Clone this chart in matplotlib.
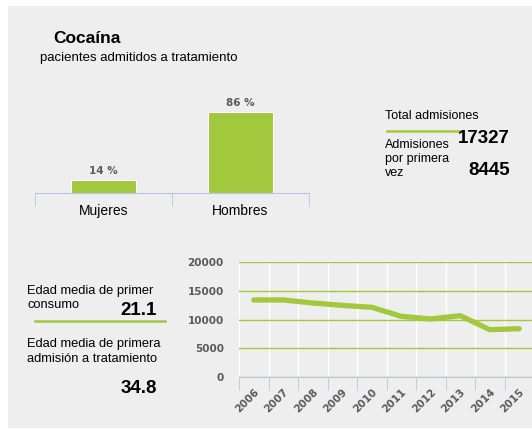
import numpy as np
import matplotlib.pyplot as plt

W, H = 532, 429

# data
sexo = ['Mujeres', 'Hombres']
porcentaje = [14, 86]
anios = ['2006', '2007', '2008', '2009', '2010', '2011', '2012', '2013', '2014', '2015']
admisiones = [13400, 13400, 12870, 12460, 12120, 10550, 10090, 10670, 8230, 8400]
total_admisiones = '17327'
primera_vez = '8445'
edad_consumo = '21.1'
edad_admision = '34.8'

verde = '#a2c83e'
azul = '#b4c6e7'
gris = '#5a5a5a'
fondo = '#eeeeee'


def fx(x):
    return x / W


def fy(y):
    return 1 - y / H


fig = plt.figure(figsize=(W / 100, H / 100), dpi=100)
fig.patch.set_facecolor('white')
fig.add_artist(plt.Rectangle((fx(8), fy(428)), fx(524), 422 / H, transform=fig.transFigure,
                             facecolor=fondo, edgecolor='none', zorder=0))

sans = 'Liberation Sans'
fig.text(fx(53), fy(43), 'Cocaína', fontsize=12.5, fontweight='bold', family=sans)
fig.text(fx(40), fy(61), 'pacientes admitidos a tratamiento', fontsize=9.5, family=sans)

# bar chart
ax1 = fig.add_axes([fx(35), fy(193), 274 / W, 93 / H])
ax1.set_facecolor('none')
x1 = np.arange(len(sexo))
bars = ax1.bar(x1, porcentaje, width=0.48, color=verde, edgecolor='white', linewidth=0.8)
for b, v in zip(bars, porcentaje):
    ax1.text(b.get_x() + b.get_width() / 2, v + 4, f'{v} %', ha='center', va='bottom',
             fontsize=7.5, fontweight='bold', color=gris)
ax1.set_xlim(-0.5, 1.5)
ax1.set_ylim(0, 98.4)
for s in ['top', 'right', 'left']:
    ax1.spines[s].set_visible(False)
ax1.spines['bottom'].set_color(azul)
ax1.set_yticks([])
ax1.set_xticks(x1)
ax1.set_xticklabels(sexo, fontsize=10, family=sans)
ax1.set_xticks([-0.5, 0.5, 1.5], minor=True)
ax1.tick_params(axis='x', which='major', length=0, pad=8)
ax1.tick_params(axis='x', which='minor', length=9, color=azul)

# admisiones block
fig.text(fx(385), fy(119), 'Total admisiones', fontsize=9, family=sans)
fig.add_artist(plt.Line2D([fx(387), fx(461)], [fy(131), fy(131)], color=verde, lw=1.8))
fig.text(fx(510), fy(143), total_admisiones, fontsize=13.5, fontweight='bold', family=sans, ha='right')
for i, t in enumerate(['Admisiones', 'por primera', 'vez']):
    fig.text(fx(385), fy(148 + 14 * i), t, fontsize=9, family=sans)
fig.text(fx(510), fy(175), primera_vez, fontsize=13.5, fontweight='bold', family=sans, ha='right')

# edad block
fig.text(fx(27), fy(294), 'Edad media de primer', fontsize=9.3, family=sans)
fig.text(fx(27), fy(308), 'consumo', fontsize=9.3, family=sans)
fig.text(fx(157), fy(315), edad_consumo, fontsize=13.5, fontweight='bold', family=sans, ha='right')
fig.add_artist(plt.Line2D([fx(35), fx(165)], [fy(321), fy(321)], color=verde, lw=1.8))
fig.text(fx(27), fy(347), 'Edad media de primera', fontsize=9.3, family=sans)
fig.text(fx(27), fy(362), 'admisión a tratamiento', fontsize=9.3, family=sans)
fig.text(fx(157), fy(393), edad_admision, fontsize=13.5, fontweight='bold', family=sans, ha='right')

# line chart
ax2 = fig.add_axes([fx(239), fy(377), 295 / W, 115 / H])
ax2.set_facecolor('none')
x2 = np.arange(len(anios))
ax2.plot(x2, admisiones, color=verde, lw=3.8, solid_capstyle='round', zorder=3)
ax2.set_xlim(-0.5, len(anios) - 0.5)
ax2.set_ylim(0, 20000)
ax2.set_yticks([0, 5000, 10000, 15000, 20000])
ax2.yaxis.grid(True, color=verde, lw=1)
ax2.set_xticks(x2)
ax2.set_xticklabels(anios, rotation=45, ha='right', rotation_mode='anchor')
ax2.set_xticks(np.arange(len(anios) + 1) - 0.5, minor=True)
ax2.xaxis.grid(True, which='minor', color='white', lw=1)
for s in ['top', 'right', 'left']:
    ax2.spines[s].set_visible(False)
ax2.spines['bottom'].set_color(azul)
ax2.spines['bottom'].set_zorder(4)
ax2.tick_params(axis='x', which='major', length=0, pad=7, labelsize=7.5, labelcolor=gris)
ax2.tick_params(axis='x', which='minor', length=9, color=azul)
ax2.tick_params(axis='y', length=0, pad=11, labelsize=7.5, labelcolor=gris)
for lab in ax2.get_xticklabels() + ax2.get_yticklabels():
    lab.set_fontweight('bold')
ax2.set_axisbelow(True)

fig.savefig('out.png', dpi=100)
